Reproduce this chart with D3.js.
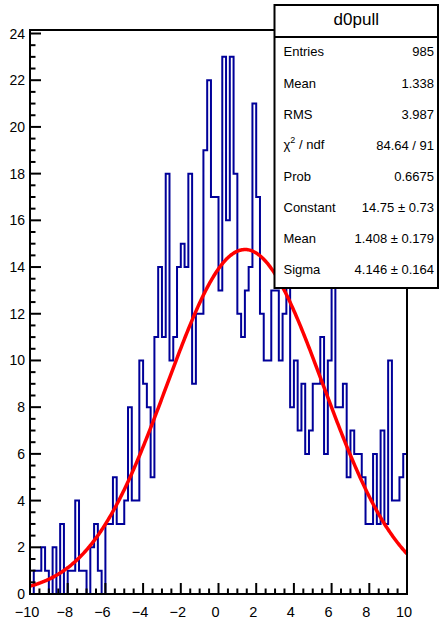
<!DOCTYPE html>
<html>
<head>
<meta charset="utf-8">
<script src="https://cdn.jsdelivr.net/npm/d3@7"></script>
<style>
  html, body { margin: 0; padding: 0; background: #ffffff; }
  svg { display: block; font-family: "Liberation Sans", Arial, sans-serif; }
</style>
</head>
<body>
<svg id="chart" width="440" height="619"></svg>
<script>
// ---------------- data ----------------
const histName = "d0pull";
const xRange = [-10, 10];
const nBins = 100;
// bin contents, 100 bins of width 0.2 from -10 to 10
const binCounts = [
  0, 1, 1, 2, 1, 0, 2, 0, 3, 0,
  1, 1, 4, 1, 1, 0, 2, 3, 1, 0,
  3, 3, 5, 3, 3, 4, 8, 4, 4, 10,
  9, 8, 5, 11, 14, 11, 18, 10, 11, 14,
  15, 14, 18, 9, 12, 12, 19, 22, 17, 17,
  13, 23, 16, 23, 18, 12, 11, 13, 14, 21,
  17, 12, 10, 10, 13, 13, 10, 12, 15, 8,
  10, 7, 9, 6, 7, 9, 9, 11, 6, 10,
  15, 8, 8, 9, 5, 7, 6, 6, 5, 3,
  3, 6, 3, 7, 3, 10, 4, 4, 5, 6
];
const xTickValues = [-10, -8, -6, -4, -2, 0, 2, 4, 6, 8, 10];
const yTickValues = [0, 2, 4, 6, 8, 10, 12, 14, 16, 18, 20, 22, 24];
const yMax = 24.15;
// fit parameters (gaus)
const fitParamNames = ["Constant", "Mean", "Sigma"];
const fitParamValues = [14.75, 1.408, 4.146];
const fitParamErrors = [0.73, 0.179, 0.164];
// stats box rows
const statLabels = ["Entries", "Mean", "RMS", "CHI2", "Prob", "Constant", "Mean", "Sigma"];
const statValues = ["985", "1.338", "3.987", "84.64 / 91", "0.6675", "14.75 \u00b1 0.73", "1.408 \u00b1 0.179", "4.146 \u00b1 0.164"];

// ---------------- layout ----------------
const frame = { left: 30, right: 407, top: 30, bottom: 594 };
const svg = d3.select("#chart");

const x = d3.scaleLinear().domain(xRange).range([frame.left, frame.right]);
const y = d3.scaleLinear().domain([0, yMax]).range([frame.bottom, frame.top]);

const binWidth = (xRange[1] - xRange[0]) / nBins;
const bins = binCounts.map((c, i) => ({ x0: xRange[0] + i * binWidth, x1: xRange[0] + (i + 1) * binWidth, c }));

// histogram outline (step)
const pts = [[x(xRange[0]), y(0)]];
bins.forEach(b => { pts.push([x(b.x0), y(b.c)]); pts.push([x(b.x1), y(b.c)]); });
pts.push([x(xRange[1]), y(0)]);

svg.append("path")
  .attr("d", d3.line()(pts))
  .attr("fill", "none")
  .attr("stroke", "#000099")
  .attr("stroke-width", 2)
  .attr("stroke-linejoin", "miter");

// fit curve
const [A, mu, sig] = fitParamValues;
const gaus = v => A * Math.exp(-0.5 * Math.pow((v - mu) / sig, 2));
const fitX = d3.range(0, 401).map(i => xRange[0] + i * (xRange[1] - xRange[0]) / 400);
svg.append("path")
  .attr("d", d3.line().x(d => x(d)).y(d => y(gaus(d))).curve(d3.curveLinear)(fitX))
  .attr("fill", "none")
  .attr("stroke", "#ff0000")
  .attr("stroke-width", 3.5);

// frame
svg.append("rect")
  .attr("x", frame.left).attr("y", frame.top)
  .attr("width", frame.right - frame.left).attr("height", frame.bottom - frame.top)
  .attr("fill", "none").attr("stroke", "#000").attr("stroke-width", 2);

// x axis ticks (inside, pointing up)
const xMinor = d3.range(-10, 10.001, 0.5);
svg.append("g").selectAll("line").data(xMinor).join("line")
  .attr("x1", d => x(d)).attr("x2", d => x(d))
  .attr("y1", frame.bottom)
  .attr("y2", d => frame.bottom - (Math.abs(d % 2) < 1e-6 ? 11 : 5.5))
  .attr("stroke", "#000").attr("stroke-width", 2);

svg.append("g").selectAll("text").data(xTickValues).join("text")
  .attr("x", d => x(d) - 3).attr("y", 617)
  .attr("text-anchor", "middle")
  .attr("font-size", 14.5)
  .text(d => d < 0 ? "\u2212" + Math.abs(d) : String(d));

// y axis ticks (inside, pointing right)
const yMinor = d3.range(0, 24.001, 0.5);
svg.append("g").selectAll("line").data(yMinor).join("line")
  .attr("y1", d => y(d)).attr("y2", d => y(d))
  .attr("x1", frame.left)
  .attr("x2", d => frame.left + (Math.abs(d % 2) < 1e-6 ? 11 : 5.5))
  .attr("stroke", "#000").attr("stroke-width", 2);

svg.append("g").selectAll("text").data(yTickValues).join("text")
  .attr("x", 25).attr("y", d => y(d) + 5)
  .attr("text-anchor", "end")
  .attr("font-size", 14)
  .text(d => String(d));

// stats box
const box = { x: 274.5, y: 5, w: 163.5, h: 283 };
svg.append("rect")
  .attr("x", box.x).attr("y", box.y).attr("width", box.w).attr("height", box.h)
  .attr("fill", "#fff").attr("stroke", "#000").attr("stroke-width", 2);
svg.append("line")
  .attr("x1", box.x).attr("x2", box.x + box.w)
  .attr("y1", 37).attr("y2", 37)
  .attr("stroke", "#000").attr("stroke-width", 2);
svg.append("text")
  .attr("x", box.x + box.w / 2).attr("y", 21)
  .attr("text-anchor", "middle").attr("dominant-baseline", "middle")
  .attr("font-size", 17)
  .text(histName);

const rowY = i => 53 + i * 31.1;
const lab = svg.append("g").selectAll("text").data(statLabels).join("text")
  .attr("x", 283.5).attr("y", (d, i) => rowY(i))
  .attr("dominant-baseline", "middle")
  .attr("font-size", 13);
lab.each(function(d) {
  const t = d3.select(this);
  if (d === "CHI2") {
    t.append("tspan").text("\u03c7");
    t.append("tspan").attr("font-size", 9).attr("dy", -5).text("2");
    t.append("tspan").attr("dy", 5).text(" / ndf");
  } else {
    t.text(d);
  }
});
svg.append("g").selectAll("text").data(statValues).join("text")
  .attr("x", 434).attr("y", (d, i) => rowY(i))
  .attr("text-anchor", "end").attr("dominant-baseline", "middle")
  .attr("font-size", 13)
  .text(d => d);
</script>
</body>
</html>
